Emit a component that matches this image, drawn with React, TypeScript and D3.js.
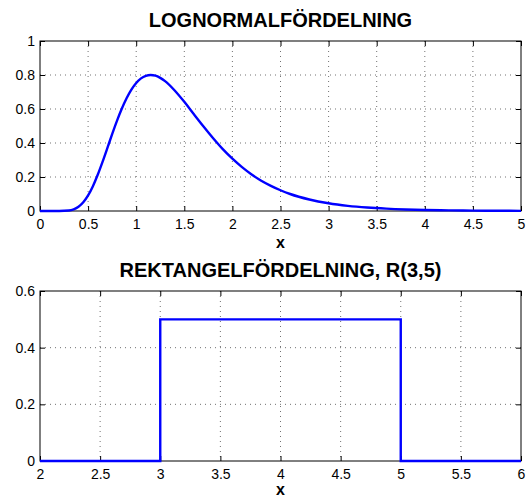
import * as d3 from "d3";
import React from "react";

// lognormal curve (x, density)
const logX = [0, 0.1, 0.2, 0.3, 0.35, 0.4, 0.45, 0.5, 0.55, 0.6, 0.65, 0.7, 0.75, 0.8, 0.85, 0.9, 0.95, 1.0, 1.05, 1.1, 1.15, 1.2, 1.25, 1.3, 1.4, 1.5, 1.6, 1.7, 1.8, 1.9, 2.0, 2.1, 2.2, 2.3, 2.4, 2.5, 2.6, 2.8, 3.0, 3.2, 3.4, 3.6, 3.8, 4.0, 4.25, 4.5, 4.75, 5.0];
const logY = [0, 0, 0.0001, 0.0028, 0.0096, 0.0246, 0.051, 0.0915, 0.146, 0.213, 0.289, 0.37, 0.452, 0.53, 0.601, 0.663, 0.714, 0.753, 0.78, 0.795, 0.8, 0.796, 0.783, 0.764, 0.709, 0.642, 0.569, 0.497, 0.428, 0.364, 0.308, 0.258, 0.215, 0.178, 0.148, 0.122, 0.1, 0.0675, 0.0453, 0.0304, 0.0204, 0.0137, 0.0092, 0.0062, 0.0039, 0.0024, 0.0015, 0.0009];

// rectangular R(3,5)
const rectX = [2, 3, 3, 5, 5, 6];
const rectY = [0, 0, 0.5, 0.5, 0, 0];

const logXTicks = [0, 0.5, 1, 1.5, 2, 2.5, 3, 3.5, 4, 4.5, 5];
const logYTicks = [0, 0.2, 0.4, 0.6, 0.8, 1];
const rectXTicks = [2, 2.5, 3, 3.5, 4, 4.5, 5, 5.5, 6];
const rectYTicks = [0, 0.2, 0.4, 0.6];

const FONT = "'Liberation Sans', Arial, Helvetica, sans-serif";

const App = () => {
  const ref = React.useRef<SVGSVGElement>(null);

  React.useEffect(() => {
    const svg = d3.select(ref.current);
    svg.selectAll("*").remove();

    const left = 40, right = 521;

    const drawPanel = (opts: any) => {
      const { top, bottom, xDomain, yDomain, xTicks, yTicks, xs, ys, title, titleY, labelY, smooth } = opts;
      const x = d3.scaleLinear().domain(xDomain).range([left, right]);
      const y = d3.scaleLinear().domain(yDomain).range([bottom, top]);
      const g = svg.append("g");

      // dotted grid
      g.append("g")
        .selectAll("line")
        .data(xTicks.slice(1, -1))
        .enter()
        .append("line")
        .attr("x1", (d: number) => x(d))
        .attr("x2", (d: number) => x(d))
        .attr("y1", top)
        .attr("y2", bottom)
        .attr("stroke", "#333")
        .attr("stroke-width", 0.7)
        .attr("stroke-dasharray", "1,4");
      g.append("g")
        .selectAll("line")
        .data(yTicks.slice(1, -1))
        .enter()
        .append("line")
        .attr("x1", left)
        .attr("x2", right)
        .attr("y1", (d: number) => y(d))
        .attr("y2", (d: number) => y(d))
        .attr("stroke", "#333")
        .attr("stroke-width", 0.7)
        .attr("stroke-dasharray", "1,4");

      // axes with inward ticks on all four sides
      const xb = g.append("g").attr("transform", `translate(0,${bottom})`)
        .call(d3.axisBottom(x).tickValues(xTicks).tickSizeInner(-5).tickSizeOuter(0).tickPadding(8).tickFormat(d3.format("")));
      const xt = g.append("g").attr("transform", `translate(0,${top})`)
        .call(d3.axisTop(x).tickValues(xTicks).tickSizeInner(-5).tickSizeOuter(0).tickFormat(() => ""));
      const yl = g.append("g").attr("transform", `translate(${left},0)`)
        .call(d3.axisLeft(y).tickValues(yTicks).tickSizeInner(-5).tickSizeOuter(0).tickPadding(5).tickFormat(d3.format("")));
      const yr = g.append("g").attr("transform", `translate(${right},0)`)
        .call(d3.axisRight(y).tickValues(yTicks).tickSizeInner(-5).tickSizeOuter(0).tickFormat(() => ""));
      [xb, xt, yl, yr].forEach((a) => {
        a.select(".domain").remove();
        a.selectAll("line").attr("stroke", "#000");
        a.selectAll("text").attr("fill", "#000").attr("font-size", 14).attr("font-family", FONT);
      });

      g.append("rect")
        .attr("x", left)
        .attr("y", top)
        .attr("width", right - left)
        .attr("height", bottom - top)
        .attr("fill", "none")
        .attr("stroke", "#000")
        .attr("stroke-width", 1);

      const line = d3.line<number>()
        .x((_, i) => x(xs[i]))
        .y((d) => y(d))
        .curve(smooth ? d3.curveMonotoneX : d3.curveLinear);

      g.append("path")
        .datum(ys)
        .attr("d", line)
        .attr("fill", "none")
        .attr("stroke", "#0000ff")
        .attr("stroke-width", 2.4)
        .attr("stroke-linejoin", "miter");

      g.append("text")
        .attr("x", (left + right) / 2)
        .attr("y", titleY)
        .attr("text-anchor", "middle")
        .attr("font-family", FONT)
        .attr("font-weight", "bold")
        .attr("font-size", 20)
        .text(title);

      g.append("text")
        .attr("x", (left + right) / 2)
        .attr("y", labelY)
        .attr("text-anchor", "middle")
        .attr("font-family", FONT)
        .attr("font-weight", "bold")
        .attr("font-size", 16)
        .text("x");
    };

    drawPanel({
      top: 41, bottom: 211, xDomain: [0, 5], yDomain: [0, 1],
      xTicks: logXTicks, yTicks: logYTicks, xs: logX, ys: logY,
      title: "LOGNORMALFÖRDELNING", titleY: 27, labelY: 248, smooth: true,
    });
    drawPanel({
      top: 291, bottom: 461, xDomain: [2, 6], yDomain: [0, 0.6],
      xTicks: rectXTicks, yTicks: rectYTicks, xs: rectX, ys: rectY,
      title: "REKTANGELFÖRDELNING, R(3,5)", titleY: 277, labelY: 495, smooth: false,
    });
  }, []);

  return (
    <svg
      ref={ref}
      width={528}
      height={502}
      style={{ position: "absolute", left: 0, top: 0, background: "#fff" }}
    />
  );
};

export default App;
